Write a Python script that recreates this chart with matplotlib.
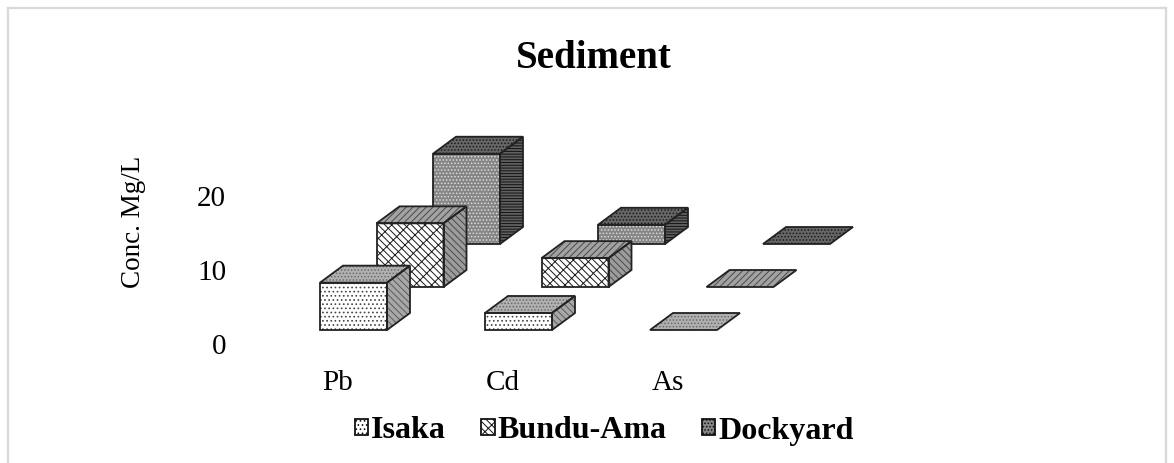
import numpy as np
import matplotlib
matplotlib.use('Agg')
import matplotlib.pyplot as plt
from matplotlib.lines import Line2D
from matplotlib.patches import Patch, Polygon
from matplotlib.transforms import ScaledTranslation

categories = ['Pb', 'Cd', 'As']
series_names = ['Isaka', 'Bundu-Ama', 'Dockyard']
isaka = [6.4, 2.3, 0.0]
bundu_ama = [8.6, 3.9, 0.0]
dockyard = [12.2, 2.6, 0.0]
y_ticks = [0, 10, 20]

# figure geometry in pixels
W, H = 1174, 463
PX_PER_CAT = 165.0
PX_PER_VAL = 7.4
AX_LEFT, AX_RIGHT, AX_TOP, AX_BOTTOM = 240, 960, 110, 360
X0_PX, BASE_PX = 353.5, 330

# bar shape in data units
bar_w = 67 / PX_PER_CAT
depth_x = 23 / PX_PER_CAT
depth_y = 17 / PX_PER_VAL
series_dx = 56.5 / PX_PER_CAT
series_dy = 43 / PX_PER_VAL

# front, top, side styles per series: (face, hatch colour, hatch)
styles = [
    {'front': ('white', '#444444', '....'),
     'top': ('#b0b0b0', '#6a6a6a', '.....'),
     'side': ('#a8a8a8', '#5a5a5a', '\\\\\\\\\\')},
    {'front': ('white', '#1a1a1a', 'xx\\\\\\'),
     'top': ('#a2a2a2', '#4a4a4a', '/////'),
     'side': ('#9c9c9c', '#4a4a4a', '\\\\\\\\\\')},
    {'front': ('#858585', '#dcdcdc', '.....'),
     'top': ('#666666', '#1a1a1a', '.....'),
     'side': ('#606060', '#111111', '------')},
]

plt.rcParams['font.family'] = ['Liberation Serif', 'DejaVu Serif']
plt.rcParams['hatch.linewidth'] = 0.7

fig = plt.figure(figsize=(W / 100, H / 100), dpi=100)
ax = fig.add_axes([AX_LEFT / W, 1 - AX_BOTTOM / H,
                   (AX_RIGHT - AX_LEFT) / W, (AX_BOTTOM - AX_TOP) / H])
ax.set_xlim((AX_LEFT - X0_PX) / PX_PER_CAT, (AX_RIGHT - X0_PX) / PX_PER_CAT)
ax.set_ylim((BASE_PX - AX_BOTTOM) / PX_PER_VAL, (BASE_PX - AX_TOP) / PX_PER_VAL)


def face(points, style, zorder):
    fc, hc, hatch = style
    ax.add_patch(Polygon(points, closed=True, facecolor=fc, edgecolor=hc,
                         hatch=hatch, lw=0, zorder=zorder))
    ax.add_patch(Polygon(points, closed=True, fill=False, edgecolor='#222222',
                         lw=1.3, joinstyle='miter', zorder=zorder + 0.1))


def draw_box(cat, ser, value, style):
    # oblique box: every series steps back and to the right
    x0 = cat + ser * series_dx - bar_w / 2
    x1 = x0 + bar_w
    y0 = ser * series_dy
    y1 = y0 + value
    z = 10 - ser * 3
    face([(x0, y1), (x1, y1), (x1 + depth_x, y1 + depth_y), (x0 + depth_x, y1 + depth_y)],
         style['top'], z)
    if value > 0:
        face([(x0, y0), (x1, y0), (x1, y1), (x0, y1)], style['front'], z)
        face([(x1, y0), (x1 + depth_x, y0 + depth_y), (x1 + depth_x, y1 + depth_y), (x1, y1)],
             style['side'], z)


for ser, values in reversed(list(enumerate([isaka, bundu_ama, dockyard]))):
    for cat, value in enumerate(values):
        draw_box(cat, ser, value, styles[ser])

# axes: only the tick labels are visible
for side in ax.spines.values():
    side.set_visible(False)
ax.patch.set_visible(False)
ax.set_xticks(np.arange(len(categories)))
ax.set_xticklabels(categories, fontsize=21)
ax.set_yticks(y_ticks)
ax.set_yticklabels([str(v) for v in y_ticks], fontsize=21)
ax.tick_params(axis='x', length=0, pad=14)
ax.tick_params(axis='y', length=0, pad=10)

# tick labels sit lower/left of the front plane in the original
y_shift = ScaledTranslation(0, -14 / 100, fig.dpi_scale_trans)
x_shift = ScaledTranslation(-16 / 100, 9 / 100, fig.dpi_scale_trans)
for label in ax.get_yticklabels():
    label.set_transform(label.get_transform() + y_shift)
for label in ax.get_xticklabels():
    label.set_transform(label.get_transform() + x_shift)

fig.text(594 / W, 1 - 59 / H, 'Sediment', ha='center', va='center',
         fontsize=28, fontweight='bold')
fig.text(133 / W, 1 - 222 / H, 'Conc. Mg/L', ha='center', va='center',
         rotation=90, fontsize=19.5)

handles = [Patch(facecolor=styles[i]['front'][0], edgecolor='#111111',
                 hatch=styles[i]['front'][2], lw=1.3) for i in range(3)]
leg = fig.legend(handles, series_names, ncol=3, loc='center',
                 bbox_to_anchor=(604 / W, 1 - 431 / H), frameon=False,
                 prop={'weight': 'bold', 'size': 23},
                 handlelength=0.42, handleheight=0.42, handletextpad=0.08,
                 columnspacing=1.12, borderpad=0)

# light frame of the chart area, open at the bottom
frame = '#d9d9d9'
fig.add_artist(Line2D([8 / W, 8 / W], [0, 1 - 8 / H], color=frame, lw=1.6))
fig.add_artist(Line2D([8 / W, 1166 / W], [1 - 8 / H, 1 - 8 / H], color=frame, lw=1.6))
fig.add_artist(Line2D([1166 / W, 1166 / W], [0, 1 - 8 / H], color=frame, lw=1.6))

fig.savefig('out.png', dpi=100)
